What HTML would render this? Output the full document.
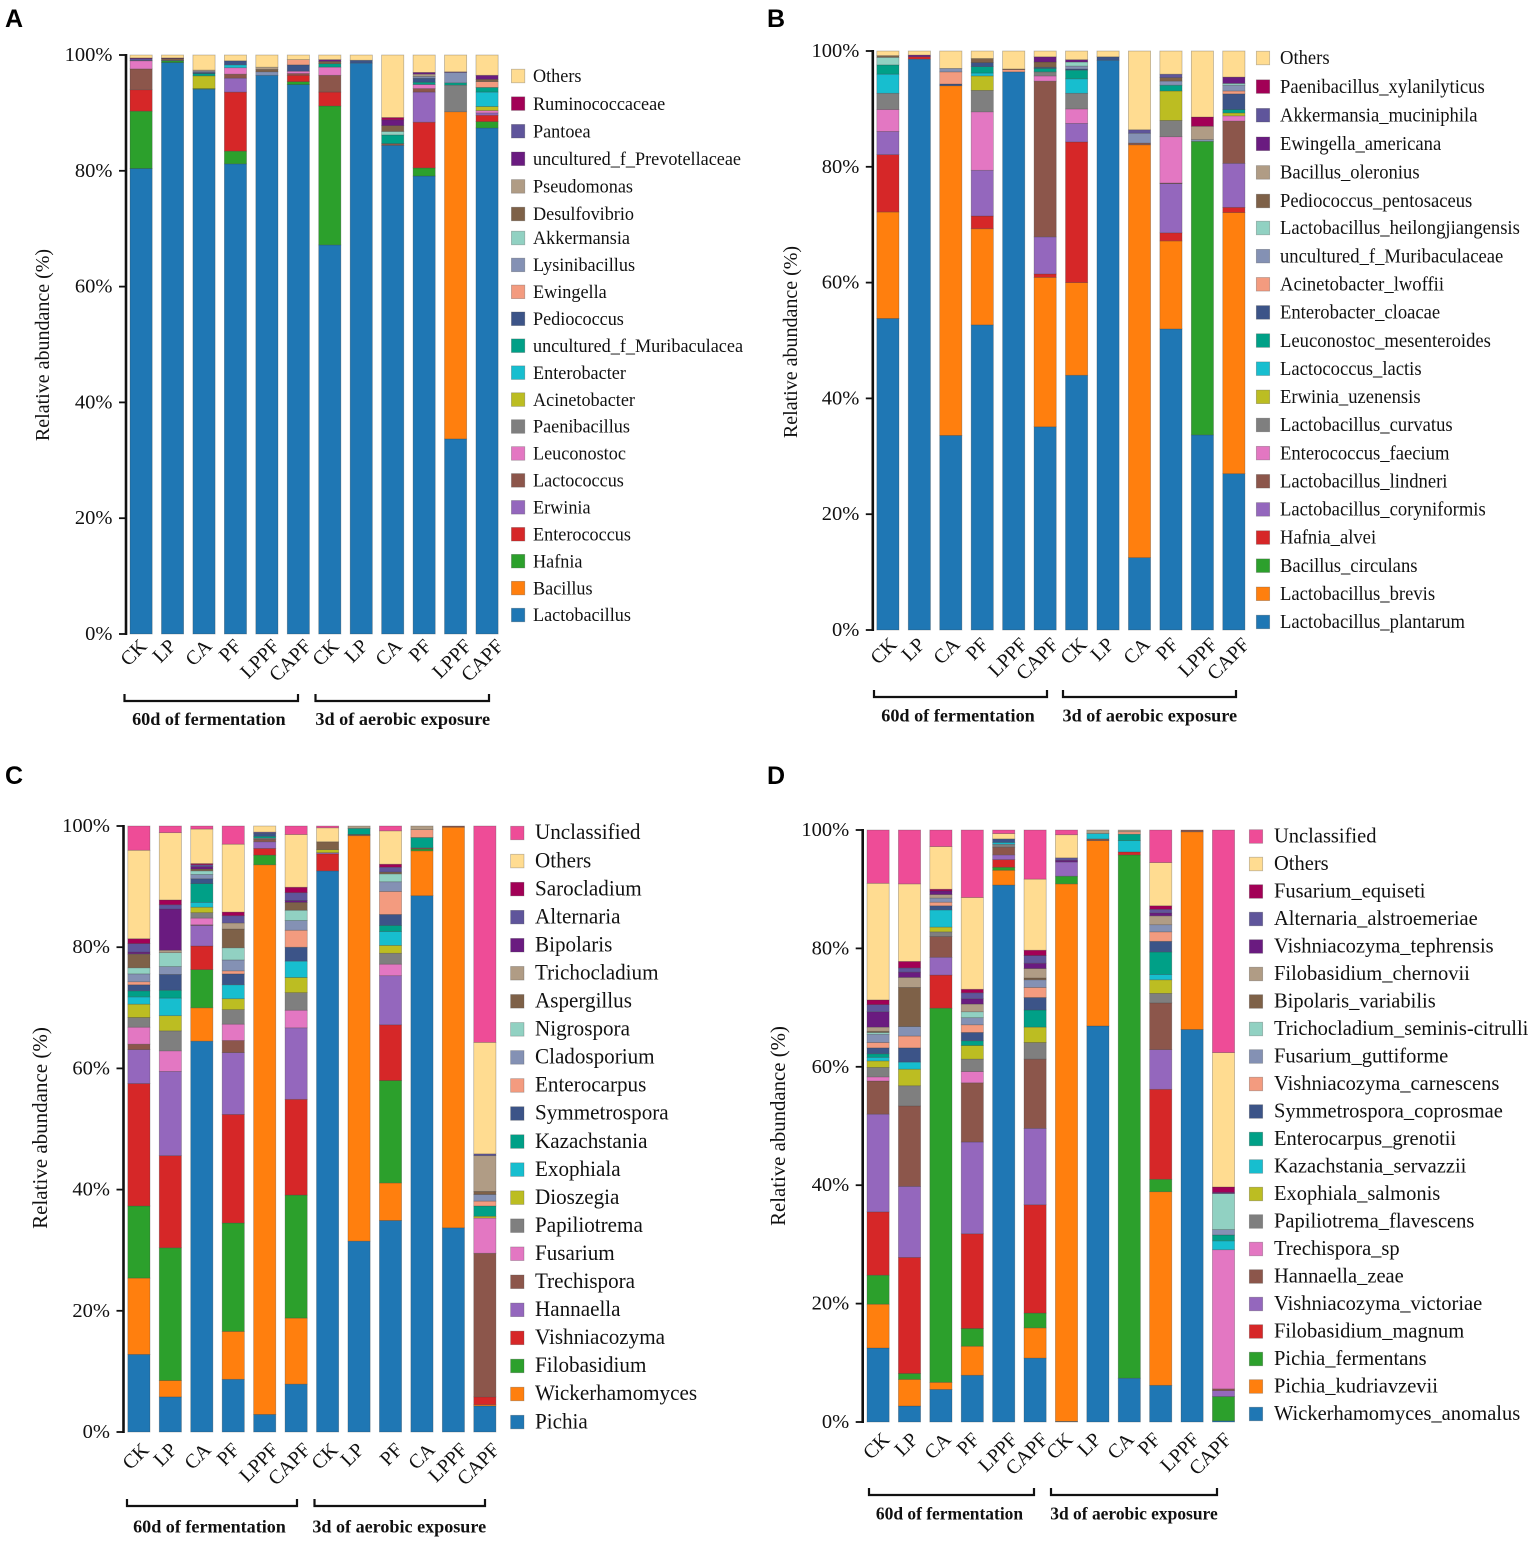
<!DOCTYPE html>
<html lang="en">
<head>
<meta charset="utf-8">
<title>Relative abundance stacked bars</title>
<style>
html,body{margin:0;padding:0;background:#fff}
svg{display:block}
text{font-family:"Liberation Serif",serif;fill:#111}
.letter{font-family:"Liberation Sans",sans-serif;font-weight:bold;font-size:25px;fill:#000}
</style>
</head>
<body>
<svg id="figure" xmlns="http://www.w3.org/2000/svg" width="1535" height="1541" viewBox="0 0 1535 1541">
<rect width="1535" height="1541" fill="#fff"/>
<text class="letter" x="5" y="27">A</text>
<text class="letter" x="767" y="27">B</text>
<text class="letter" x="5" y="784">C</text>
<text class="letter" x="767" y="784">D</text>
</svg>
<script>
const palette = ['#1f77b4','#ff7f0e','#2ca02c','#d62728','#9467bd','#8c564b','#e377c2','#7f7f7f','#bcbd22','#17becf','#00a087','#3c5488','#f39b7f','#8491b4','#91d1c2','#7e6148','#b09c85','#6a1b80','#5f559b','#a20056'];
const othersColor = '#ffdc91';
const unclassifiedColor = '#ee4c97';
const yTicks = [0,20,40,60,80,100];
const yTickLabels = ['0%','20%','40%','60%','80%','100%'];
const yAxisTitle = 'Relative abundance (%)';
const groupLabels = ['60d of fermentation','3d of aerobic exposure'];

const categoriesA = ['CK','LP','CA','PF','LPPF','CAPF','CK','LP','CA','PF','LPPF','CAPF'];
const taxaA = ['Lactobacillus','Bacillus','Hafnia','Enterococcus','Erwinia','Lactococcus','Leuconostoc','Paenibacillus','Acinetobacter','Enterobacter','uncultured_f_Muribaculacea','Pediococcus','Ewingella','Lysinibacillus','Akkermansia','Desulfovibrio','Pseudomonas','uncultured_f_Prevotellaceae','Pantoea','Ruminococcaceae','Others'];
const a01 = [80.4,0,9.9,3.7,0,3.6,1.4,0,0,0,0,0.1,0,0,0,0,0,0,0.3,0.1,0.5];
const a02 = [98.7,0,0.3,0,0,0,0,0,0,0,0,0.1,0,0,0,0.3,0,0.1,0,0,0.5];
const a03 = [94.1,0,0.1,0,0,0,0,0,2.2,0,0.4,0.2,0,0.2,0,0,0.2,0,0,0,2.6];
const a04 = [81.2,0,2.2,10.2,2.4,0.7,1.1,0,0,0.5,0,0.7,0,0,0,0,0,0,0,0,1.0];
const a05 = [96.5,0,0,0,0,0,0,0,0,0,0,0,0,0.6,0,0.4,0.4,0,0,0,2.1];
const a06 = [94.9,0,0.5,1.1,0,0.3,0.4,0,0,0,0,1.1,0.9,0,0,0,0,0,0,0,0.8];
const a07 = [67.2,0,24,2.4,0,2.9,1.4,0,0,0,0.6,0,0,0,0,0.4,0,0.3,0,0,0.8];
const a08 = [98.6,0,0,0,0,0,0,0,0,0,0,0.5,0,0,0,0,0,0,0,0,0.9];
const a09 = [84.4,0,0,0,0,0.3,0,0,0,0,1.5,0,0,0,0.6,1,0,1,0,0.4,10.8];
const a10 = [79.1,0,1.4,7.9,5.2,0.6,0.7,0,0,0,0.4,0.7,0,0.3,0,0,0.4,0.3,0,0,3.0];
const a11 = [33.7,56.5,0,0,0,0,0,4.6,0,0,0.4,0,0,1.8,0,0,0,0.1,0,0,2.9];
const a12 = [87.4,0,1.1,1.1,0.4,0,0.4,0,0.7,2.5,0.8,0,1,0,0,0.4,0,0.7,0,0,3.5];
const valuesA = [a01,a02,a03,a04,a05,a06,a07,a08,a09,a10,a11,a12];

const categoriesB = ['CK','LP','CA','PF','LPPF','CAPF','CK','LP','CA','PF','LPPF','CAPF'];
const taxaB = ['Lactobacillus_plantarum','Lactobacillus_brevis','Bacillus_circulans','Hafnia_alvei','Lactobacillus_coryniformis','Lactobacillus_lindneri','Enterococcus_faecium','Lactobacillus_curvatus','Erwinia_uzenensis','Lactococcus_lactis','Leuconostoc_mesenteroides','Enterobacter_cloacae','Acinetobacter_lwoffii','uncultured_f_Muribaculaceae','Lactobacillus_heilongjiangensis','Pediococcus_pentosaceus','Bacillus_oleronius','Ewingella_americana','Akkermansia_muciniphila','Paenibacillus_xylanilyticus','Others'];
const b01 = [53.8,18.4,0,9.9,4,0,3.8,2.8,0,3.3,1.6,0,0,0,1.3,0.3,0,0,0,0,0.8];
const b02 = [98.6,0,0,0.4,0,0,0,0,0,0,0,0,0,0,0,0,0,0.3,0,0,0.7];
const b03 = [33.6,60.4,0,0,0,0,0,0,0,0,0,0.3,2.1,0.6,0,0,0,0,0,0,3.0];
const b04 = [52.7,16.6,0,2.2,7.9,0,10.1,3.7,2.5,0.5,1.1,0.7,0,0,0,0.7,0,0,0,0,1.3];
const b05 = [96.4,0,0,0,0,0,0,0,0,0,0,0,0.4,0,0,0.1,0,0,0,0,3.1];
const b06 = [35.1,25.8,0,0.6,6.4,26.9,0.9,0.7,0,0,0.6,0.2,0,0,0,0.9,0,0.9,0,0,1.0];
const b07 = [44,16,0,24.3,3.2,0,2.5,2.7,0,2.5,1.5,0.2,0,0.5,0.7,0,0,0.4,0,0,1.5];
const b08 = [98.4,0,0,0,0,0,0,0,0,0,0,0.6,0,0,0,0,0,0,0,0,1.0];
const b09 = [12.5,71.3,0,0,0,0.3,0,0,0,0,0,0,0,1.7,0,0,0,0,0.6,0,13.6];
const b10 = [52,15.2,0,1.4,8.5,0.1,8,2.8,5.1,0,1,0,0,0.7,0,0.6,0,0,0.6,0,4.0];
const b11 = [33.7,0,50.7,0,0,0,0,0,0,0,0,0,0,0.3,0,0,2.3,0,0,1.6,11.4];
const b12 = [27,45.1,0,0.9,7.6,7.3,0.9,0,0.5,0,0.6,2.7,0.5,1,0.3,0,0,1.1,0,0,4.5];
const valuesB = [b01,b02,b03,b04,b05,b06,b07,b08,b09,b10,b11,b12];

const categoriesC = ['CK','LP','CA','PF','LPPF','CAPF','CK','LP','PF','CA','LPPF','CAPF'];
const taxaC = ['Pichia','Wickerhamomyces','Filobasidium','Vishniacozyma','Hannaella','Trechispora','Fusarium','Papiliotrema','Dioszegia','Exophiala','Kazachstania','Symmetrospora','Enterocarpus','Cladosporium','Nigrospora','Aspergillus','Trichocladium','Bipolaris','Alternaria','Sarocladium','Others','Unclassified'];
const c01 = [12.8,12.6,11.9,20.2,5.6,0.9,2.8,1.6,2.2,1.2,1,1,0.5,1.3,1,2.2,0.1,0.3,1.4,0.8,14.6,4];
const c02 = [5.8,2.7,21.9,15.2,13.9,0,3.4,3.3,2.5,2.9,1.3,2.6,0,1.3,2.3,0,0.4,6.8,0.7,0.8,11.1,1.1];
const c03 = [64.5,5.5,6.3,3.9,3.4,0.1,1.1,0.9,0.9,0.8,3.1,0.8,0,0.7,0.6,0.3,0,0.4,0.3,0.2,5.7,0.5];
const c04 = [8.7,7.9,17.9,17.9,10.2,2,2.7,2.4,1.8,2.3,0,1.8,0.5,1.8,2,3.1,1,0,1.2,0.6,11.2,3];
const c05 = [2.9,90.7,1.6,1.1,1.1,0.4,0,0.2,0,0,0.3,0.5,0,0,0,0,0,0,0.2,0,1,0];
const c06 = [7.9,10.9,20.3,15.8,11.8,0,2.9,2.9,2.5,2.7,0,2.3,2.8,1.6,1.7,1.3,0,0.3,1.3,0.9,8.7,1.4];
const c07 = [92.6,0,0,2.8,0.2,0,0,0,0.5,0,0,0,0,0,0,1.3,0,0,0,0,2.3,0.3];
const c08 = [31.5,66.9,0,0,0,0.2,0,0,0,0,1,0,0,0,0,0,0.4,0,0,0,0,0];
const c09 = [34.9,6.2,16.9,9.2,8.1,0,1.9,1.8,1.3,2.3,1,1.8,3.8,1.6,1.3,0.3,0,0,0.8,0.5,5.5,0.8];
const c10 = [88.5,7.4,0.3,0,0,0.2,0,0,0,0,1.7,0,1.3,0,0,0,0.6,0,0,0,0,0];
const c11 = [33.7,66.1,0,0,0,0.2,0,0,0,0,0,0,0,0,0,0,0,0,0,0,0,0];
const c12 = [4.3,0.2,0,1.3,0,23.7,5.8,0,0.3,0,1.7,0,0.8,1.1,0,0.5,5.9,0,0.3,0,18.4,35.7];
const valuesC = [c01,c02,c03,c04,c05,c06,c07,c08,c09,c10,c11,c12];

const categoriesD = ['CK','LP','CA','PF','LPPF','CAPF','CK','LP','CA','PF','LPPF','CAPF'];
const taxaD = ['Wickerhamomyces_anomalus','Pichia_kudriavzevii','Pichia_fermentans','Filobasidium_magnum','Vishniacozyma_victoriae','Hannaella_zeae','Trechispora_sp','Papiliotrema_flavescens','Exophiala_salmonis','Kazachstania_servazzii','Enterocarpus_grenotii','Symmetrospora_coprosmae','Vishniacozyma_carnescens','Fusarium_guttiforme','Trichocladium_seminis-citrulli','Bipolaris_variabilis','Filobasidium_chernovii','Vishniacozyma_tephrensis','Alternaria_alstroemeriae','Fusarium_equiseti','Others','Unclassified'];
const d01 = [12.5,7.4,4.9,10.7,16.5,5.6,0.7,1.6,1.1,0.6,0.6,1,0.9,1.4,0.3,0.2,0.7,2.6,1.2,0.8,19.7,9];
const d02 = [2.7,4.5,1,19.6,12,13.6,0,3.4,2.8,1.2,0,2.4,2,1.6,0,6.6,1.7,0.9,0.7,1.1,13.1,9.1];
const d03 = [5.5,1.2,63.2,5.6,3,3.5,0,0.8,0.8,2.9,0,0.7,0.6,0.7,0,0,0.6,0.6,0,0.3,7.2,2.8];
const d04 = [7.9,4.9,3,16,15.5,10,1.9,2.1,2.3,0,0.8,1.4,1.3,1.2,1,0,1.3,0.9,1,0.6,15.5,11.4];
const d05 = [90.7,2.5,0.5,1.3,0.8,1.3,0,0.5,0,0.3,0,0.6,0,0,0,0,0,0,0,0,0.9,0.6];
const d06 = [10.8,5.1,2.5,18.3,12.9,11.7,0,2.8,2.6,0,2.9,2.1,1.7,1.3,0,0.3,1.6,0.9,1.3,0.9,12,8.3];
const d07 = [0.1,90.8,1.3,0,2.4,0,0,0,0,0,0,0,0,0,0,0,0,0.3,0.4,0,3.9,0.8];
const d08 = [66.9,31.3,0,0,0,0.3,0,0,0,0.9,0,0,0,0,0,0,0.6,0,0,0,0,0];
const d09 = [7.4,0,88.4,0.5,0,0,0,0,0,1.9,1.1,0,0.4,0,0,0,0.3,0,0,0,0,0];
const d10 = [6.2,32.7,2.1,15.2,6.7,7.9,0,1.6,2.3,0.9,3.8,1.8,1.6,1.2,0,0,1.5,0.5,0.6,0.6,7.3,5.5];
const d11 = [66.3,33.4,0,0,0,0.3,0,0,0,0,0,0,0,0,0,0,0,0,0,0,0,0];
const d12 = [0.2,0,4.1,0,1,0.3,23.5,0,0,1.5,1,0,0,0.9,6.1,0,0,0.2,0,0.9,22.7,37.6];
const valuesD = [d01,d02,d03,d04,d05,d06,d07,d08,d09,d10,d11,d12];

const svgNS = 'http://www.w3.org/2000/svg';
const root = document.getElementById('figure');

function make(parent, tag, attrs, text) {
  const el = document.createElementNS(svgNS, tag);
  for (const k in attrs) el.setAttribute(k, attrs[k]);
  if (text !== undefined) el.textContent = text;
  parent.appendChild(el);
  return el;
}

function colorFor(index, taxa) {
  const name = taxa[index];
  if (name === 'Others') return othersColor;
  if (name === 'Unclassified') return unclassifiedColor;
  return palette[index];
}

function slug(s) {
  return s.toLowerCase().replace(/[^a-z0-9]+/g, '-');
}

function drawPanel(id, categories, taxa, values, g) {
  const panel = make(root, 'g', {});
  
  

  const yScale = v => g.y0 - (v / 100) * (g.y0 - g.y100);
  const xScale = i => g.barX + i * g.pitch;

  // bars
  values.forEach((bar, i) => {
    const barGroup = make(panel, 'g', {});
    
    
    let acc = 0;
    bar.forEach((v, s) => {
      if (v <= 0) return;
      const top = yScale(acc + v), bottom = yScale(acc);
      acc += v;
      const seg = make(barGroup, 'rect', {
        x: xScale(i), y: top, width: g.barW, height: bottom - top,
        fill: colorFor(s, taxa), stroke: 'rgba(60,60,60,0.38)', 'stroke-width': 0.7
      });
      
      
    });
  });

  // y axis
  const axis = make(panel, 'line', { x1: g.axisX, x2: g.axisX, y1: yScale(100) - 1, y2: yScale(0) + 1, stroke: '#111', 'stroke-width': 2.6 });
  
  
  yTicks.forEach((t, i) => {
    const tick = make(panel, 'line', { x1: g.axisX - 7, x2: g.axisX, y1: yScale(t), y2: yScale(t), stroke: '#111', 'stroke-width': 1.8 });
    
    
    const lab = make(panel, 'text', { x: g.axisX - 13.5, y: yScale(t) + 6, 'text-anchor': 'end', 'font-size': 20.5, 'fill': '#222' }, yTickLabels[i]);
    
    
  });
  const title = make(panel, 'text', {
    transform: 'translate(' + g.titleX + ',' + g.titleY + ') rotate(-90)',
    'text-anchor': 'middle', 'font-size': g.titleFont
  }, yAxisTitle);
  
  

  // x labels
  categories.forEach((c, i) => {
    const cx = xScale(i) + g.barW / 2 + 9 + g.labelDx[i];
    const cy = yScale(0) + g.labelDy;
    const lab = make(panel, 'text', {
      transform: 'translate(' + cx + ',' + cy + ') rotate(-45)',
      'text-anchor': 'end', 'font-size': 20
    }, c);
    
    
  });

  // brackets
  g.brackets.forEach((b, i) => {
    const path = make(panel, 'path', {
      d: 'M' + b[0] + ' ' + g.bracketY + 'V' + (g.bracketY + 7) + 'H' + b[1] + 'V' + g.bracketY,
      fill: 'none', stroke: '#111', 'stroke-width': 2.2
    });
    
    
    const lab = make(panel, 'text', {
      x: (b[0] + b[1]) / 2 + g.groupDx[i], y: g.groupY, 'text-anchor': 'middle',
      'font-size': g.groupFont, 'font-weight': 'bold'
    }, groupLabels[i]);
    
    
  });

  // legend
  const n = taxa.length;
  taxa.slice().reverse().forEach((name, r) => {
    const idx = n - 1 - r;
    const y = (g.legendBreakAt && r >= g.legendBreakAt)
      ? g.legendBreakY + (r - g.legendBreakAt) * g.legendBreakPitch
      : g.legendY + r * g.legendPitch;
    const entry = make(panel, 'g', {});
    
    
    const sw = make(entry, 'rect', {
      x: g.legendX, y: y - 6.8, width: 13.4, height: 13.6,
      fill: colorFor(idx, taxa), stroke: 'rgba(80,80,80,0.4)', 'stroke-width': 0.7
    });
    
    
    const t = make(entry, 'text', {
      transform: 'translate(' + g.legendTextX + ',' + (y + 6.2) + ') scale(' + g.legendSqueeze + ',1)',
      'font-size': g.legendFont
    }, name);
    
    
  });
}

drawPanel('a', categoriesA, taxaA, valuesA, {
  y0: 634, y100: 55, barX: 130, barW: 22.2, pitch: 31.45, axisX: 126,
  titleX: 49, titleY: 345, titleFont: 20,
  labelDx: [-2.1,-4.55,0,-1.95,4.6,5.15,1.2,-1.25,1.3,-0.65,7.9,8.45], labelDy: 13.3,
  bracketY: 694, brackets: [[124.5,298],[315.5,489]], groupY: 725, groupDx: [-2.4,0.5], groupFont: 18.2,
  legendX: 511.4, legendTextX: 533, legendY: 76, legendPitch: 27.6,
  legendBreakAt: 6, legendBreakY: 238, legendBreakPitch: 26.93, legendFont: 19.2, legendSqueeze: 0.948
});
drawPanel('b', categoriesB, taxaB, valuesB, {
  y0: 630, y100: 51, barX: 876.8, barW: 22.2, pitch: 31.45, axisX: 872.8,
  titleX: 797, titleY: 342, titleFont: 20,
  labelDx: [1.1,-2.35,1.2,-1.75,5.8,5.35,2.4,-2.05,2.5,-0.45,7.1,7.65], labelDy: 15.7,
  bracketY: 690, brackets: [[874,1047],[1063,1236]], groupY: 721.5, groupDx: [-2.5,0.3], groupFont: 18.2,
  legendX: 1256.3, legendTextX: 1280, legendY: 58, legendPitch: 28.6,
  legendBreakAt: 6, legendBreakY: 228, legendBreakPitch: 28.14, legendFont: 19.6, legendSqueeze: 0.95
});
drawPanel('c', categoriesC, taxaC, valuesC, {
  y0: 1432, y100: 826, barX: 127.8, barW: 22.2, pitch: 31.45, axisX: 123.5,
  titleX: 47, titleY: 1128, titleFont: 21,
  labelDx: [2.1,-1.35,1.2,-1.75,5.8,6.35,2.4,-3,4,5,6.1,6.65], labelDy: 19,
  bracketY: 1499, brackets: [[127,297],[314.5,485]], groupY: 1532.5, groupDx: [-2.5,-0.5], groupFont: 18.1,
  legendX: 510.6, legendTextX: 535, legendY: 833, legendPitch: 28.05, legendFont: 22, legendSqueeze: 0.96
});
drawPanel('d', categoriesD, taxaD, valuesD, {
  y0: 1422, y100: 830, barX: 867, barW: 22.2, pitch: 31.4, axisX: 862.7,
  titleX: 785, titleY: 1126, titleFont: 20.8,
  labelDx: [3.6,0.5,2.1,-0.8,5.8,4.9,-1.5,-4.9,-3.3,-8.2,-0.6,0], labelDy: 18.7,
  bracketY: 1488, brackets: [[869,1034],[1051,1217]], groupY: 1519.5, groupDx: [-2,0], groupFont: 17.45,
  legendX: 1249.3, legendTextX: 1274, legendY: 836.5, legendPitch: 27.5, legendFont: 21.6, legendSqueeze: 0.95
});
</script>
</body>
</html>
